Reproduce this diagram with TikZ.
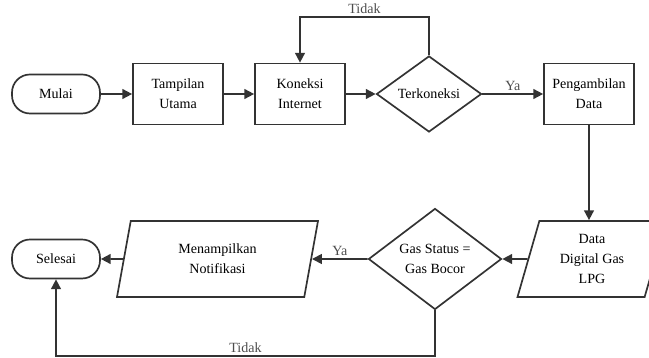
\documentclass[tikz,border=0pt]{standalone}
\usepackage{fontspec}
\setmainfont{Liberation Serif}
\usetikzlibrary{shapes.geometric,arrows.meta}

\begin{document}
\begin{tikzpicture}[x=1cm,y=1cm,font=\fontsize{10}{14}\selectfont,
  terminal/.style={draw=black!80,line width=1.2pt,rounded corners=0.45cm,minimum width=2.2cm,minimum height=0.975cm,inner sep=1pt},
  process/.style={draw=black!80,line width=1.2pt,minimum width=2.25cm,minimum height=1.525cm,align=center,inner sep=1pt},
  decision/.style={draw=black!80,line width=1.2pt,diamond,inner sep=0pt,align=center},
  inout/.style={draw=black!80,line width=1.2pt,trapezium,trapezium left angle=67,trapezium right angle=113,trapezium stretches body,inner sep=1pt,align=center},
  arr/.style={draw=black!80,line width=1.2pt,-{Triangle[length=7pt,width=7pt]}},
  lab/.style={text=black!70,inner sep=2pt}]
\clip (0,0) rectangle (16.225,8.95);
% top row
\node[terminal] (mulai) at (1.4,6.6) {Mulai};
\node[process] (tampilan) at (4.45,6.6) {Tampilan\\Utama};
\node[process] (koneksi) at (7.5,6.6) {Koneksi\\Internet};
\node[decision,minimum width=2.625cm,minimum height=1.9cm,aspect=1.38] (terkoneksi) at (10.725,6.6) {Terkoneksi};
\node[process] (pengambilan) at (14.725,6.6) {Pengambilan\\Data};
% bottom row
\node[inout,minimum width=3.725cm,minimum height=1.9cm] (data) at (14.8,2.475) {Data\\Digital Gas\\LPG};
\node[decision,minimum width=3.325cm,minimum height=2.525cm,aspect=1.32] (gas) at (10.875,2.475) {Gas Status =\\Gas Bocor};
\node[inout,minimum width=5.025cm,minimum height=1.9cm] (notif) at (5.4375,2.475) {Menampilkan\\Notifikasi};
\node[terminal] (selesai) at (1.4,2.475) {Selesai};
% loop points
\coordinate (tloop) at (10.725,8.525);
\coordinate (bloop) at (10.875,0.05);
% connectors
\draw[arr] (mulai) -- (tampilan);
\draw[arr] (tampilan) -- (koneksi);
\draw[arr] (koneksi) -- (terkoneksi);
\draw[arr] (terkoneksi) -- node[lab,above]{Ya} (pengambilan);
\draw[arr] (terkoneksi.north) -- (tloop) -| node[lab,above,pos=0.25]{Tidak} (koneksi.north);
\draw[arr] (pengambilan.south) -- (pengambilan.south |- data.north);
\draw[arr] (data.west) -- (gas.east);
\draw[arr] (gas.west) -- node[lab,above]{Ya} (notif.east);
\draw[arr] (notif.west) -- (selesai.east);
\draw[arr] (gas.south) -- (bloop) -| node[lab,above,pos=0.25]{Tidak} (selesai.south);
\end{tikzpicture}
\end{document}
